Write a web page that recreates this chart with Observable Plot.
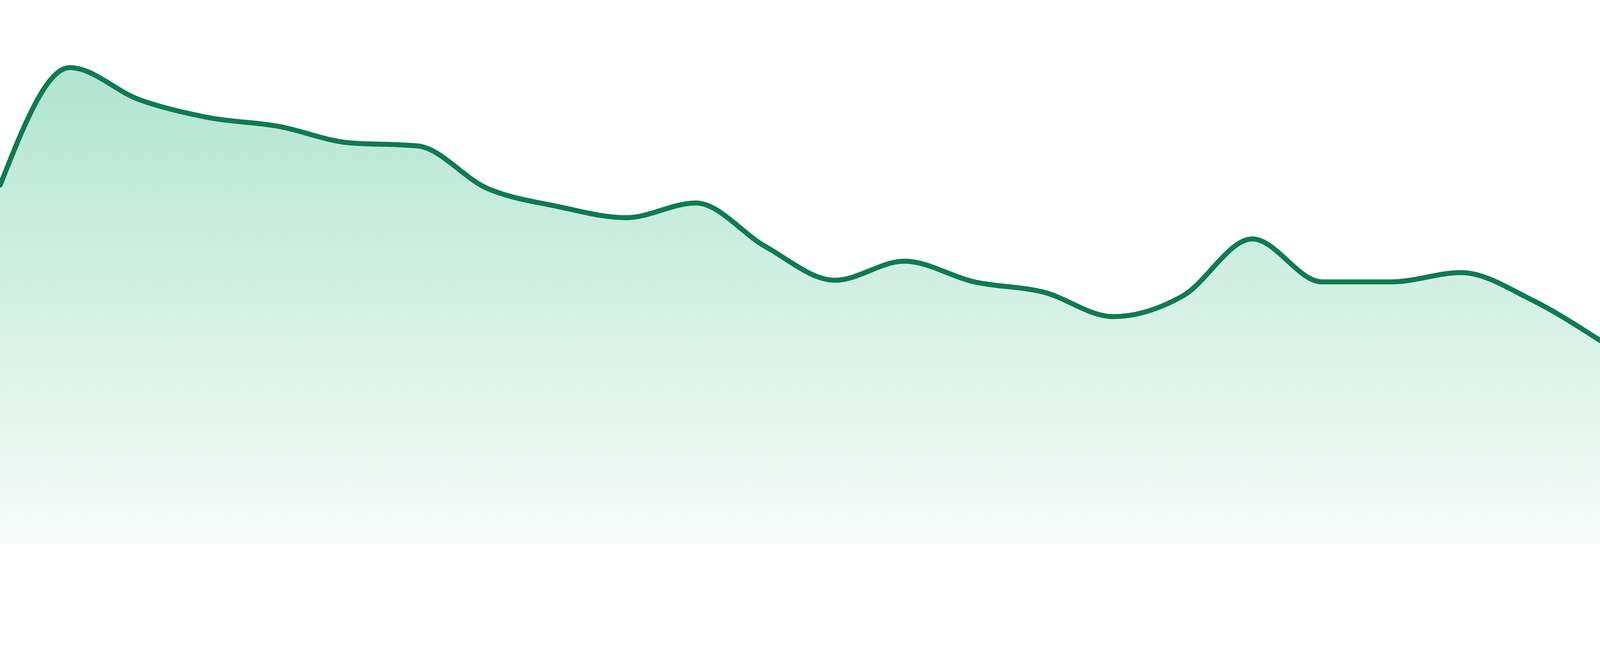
<!DOCTYPE html>
<html>
<head>
<meta charset="utf-8">
<script src="https://cdn.jsdelivr.net/npm/d3@7"></script>
<script src="https://cdn.jsdelivr.net/npm/@observablehq/plot@0.6"></script>
<style>
  html, body { margin: 0; padding: 0; background: #ffffff; }
  #chart svg { display: block; width: 100%; height: auto; }
</style>
</head>
<body>
<div id="chart"></div>
<script>
// Sequence positions (evenly spaced observations)
const steps = d3.range(24);
// Series values
const values = [66.0, 87.6, 81.7, 78.4, 76.8, 73.8, 73.2, 65.4, 62.1, 60.0, 62.7, 54.7,
                48.5, 52.0, 48.2, 46.3, 41.8, 45.6, 56.1, 48.2, 48.2, 49.9, 45.0, 37.4];
const yDomain = [0, 100];

const lineColor = "#107a50";
const gradTop = "#b1e5cf";
const gradBottom = "#f8fcfa";

const data = steps.map((s, i) => ({step: s, value: values[i]}));

const chart = Plot.plot({
  width: 4800,
  height: 1680,
  marginTop: 0,
  marginRight: 0,
  marginLeft: 0,
  marginBottom: 48,
  style: {overflow: "hidden"},
  x: {axis: null, domain: [0, steps.length - 1]},
  y: {axis: null, domain: yDomain},
  marks: [
    Plot.areaY(data, {x: "step", y: "value", curve: "monotone-x", fill: "url(#areaGrad)"}),
    Plot.lineY(data, {x: "step", y: "value", curve: "monotone-x", stroke: lineColor, strokeWidth: 15})
  ]
});

const defs = d3.select(chart).insert("defs", ":first-child");
const grad = defs.append("linearGradient")
  .attr("id", "areaGrad")
  .attr("x1", 0).attr("y1", 0).attr("x2", 0).attr("y2", 1);
grad.append("stop").attr("offset", "0%").attr("stop-color", gradTop);
grad.append("stop").attr("offset", "100%").attr("stop-color", gradBottom);

document.getElementById("chart").appendChild(chart);
</script>
</body>
</html>
